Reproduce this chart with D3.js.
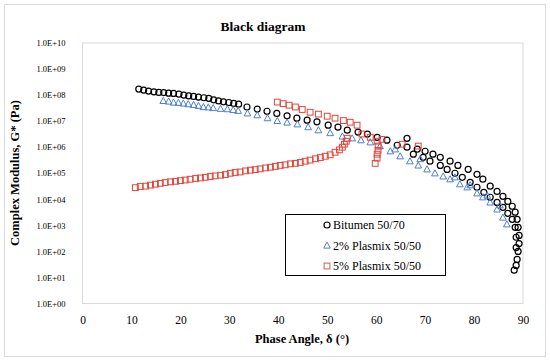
<!DOCTYPE html>
<html>
<head>
<meta charset="utf-8">
<script src="https://cdn.jsdelivr.net/npm/d3@7"></script>
<style>
  html, body { margin: 0; padding: 0; background: #fff; }
  svg { display: block; }
  text { font-family: "Liberation Serif", "DejaVu Serif", serif; fill: #000; }
</style>
</head>
<body>
<svg id="chart" width="550" height="362"></svg>
<script>
// ---------- DATA ----------
const chartTitle = "Black diagram";
const xTitle = "Phase Angle, δ  (°)";
const yTitle = "Complex Modulus, G* (Pa)";
const xTicks = [0, 10, 20, 30, 40, 50, 60, 70, 80, 90];
const yTicks = [1e0, 1e1, 1e2, 1e3, 1e4, 1e5, 1e6, 1e7, 1e8, 1e9, 1e10];
const seriesNames = ["Bitumen 50/70", "2% Plasmix 50/50", "5% Plasmix 50/50"];

// Bitumen 50/70
const bitumenDelta = [11.5, 12.5, 13.5, 14.6, 15.6, 16.6, 17.6, 18.6, 19.7, 20.7, 21.7, 22.7, 23.7, 24.8, 25.8,
  26.8, 27.8, 28.8, 29.9, 30.9, 31.9, 33.6, 35.7, 37.7, 39.7, 41.8, 43.8, 45.9, 47.9, 50.2, 52.2, 54.1,
  56.3, 58.2, 60.2, 62.2, 64.3, 66.3, 68.4, 70.0, 71.6, 73.1, 75.1, 76.7, 78.8, 80.6, 81.8, 83.3, 84.7,
  85.9, 86.9, 87.8, 88.4, 88.8, 89.0, 89.2, 89.2, 89.0, 88.8, 88.6, 88.2,
  66.3,
  67.6, 69.6, 71.0, 73.1, 74.5, 76.1, 77.6, 79.2, 80.6, 82.0, 83.3, 84.7, 85.9, 86.9, 87.8, 88.4, 88.6, 88.6];
const bitumenG = [1.70e8, 1.56e8, 1.43e8, 1.34e8, 1.27e8, 1.25e8, 1.19e8, 1.16e8, 1.09e8, 1.0e8, 9.4e7, 8.9e7, 8.4e7, 7.9e7, 7.5e7,
  6.6e7, 6.0e7, 5.5e7, 5.2e7, 4.8e7, 4.5e7, 3.5e7, 2.9e7, 2.4e7, 1.98e7, 1.6e7, 1.3e7, 1.09e7, 9.4e6, 7.0e6, 5.9e6, 4.5e6,
  3.8e6, 3.2e6, 2.4e6, 1.86e6, 1.19e6, 1.0e6, 8.4e5, 7.0e5, 5.4e5, 4.1e5, 2.9e5, 2.0e5, 1.42e5, 9.1e4, 5.9e4, 3.2e4, 2.0e4,
  1.3e4, 8.3e3, 5.4e3, 3.2e3, 1.7e3, 8.4e2, 4.1e2, 2.0e2, 1.0e2, 49, 29, 19,
  2.2e6,
  5.4e5, 4.1e5, 2.9e5, 2.0e5, 1.4e5, 1.0e5, 7.0e4, 4.5e4, 2.9e4, 1.86e4, 1.2e4, 7.6e3, 4.9e3, 2.9e3, 1.7e3, 8.4e2, 3.5e2, 1.4e2];

// 2% Plasmix 50/50
const plasmix2Delta = [16.5, 17.6, 18.6, 19.6, 20.6, 21.6, 22.7, 23.7, 24.7, 25.7, 26.7, 28.2, 29.6, 30.8, 31.8,
  33.7, 35.7, 37.8, 39.8, 41.8, 43.9, 46.1, 48.2, 50.6, 53.1, 55.1, 56.9, 58.8, 60.8, 62.9, 64.9, 66.9,
  68.6, 70.4, 72.0, 73.7, 75.1, 77.1, 78.6, 80.6, 81.8, 83.3, 84.7, 85.9, 86.7,
  63.9, 69.0, 76.1, 79.2, 82.7, 85.3];
const plasmix2G = [6.0e7, 5.7e7, 5.2e7, 5.1e7, 4.8e7, 4.5e7, 4.2e7, 3.9e7, 3.5e7, 3.4e7, 3.2e7, 3.0e7, 2.9e7, 2.7e7, 2.5e7,
  2.0e7, 1.7e7, 1.31e7, 1.02e7, 8.9e6, 7.6e6, 5.9e6, 4.5e6, 3.5e6, 2.6e6, 2.2e6, 1.86e6, 1.55e6, 1.1e6, 7.0e5, 4.5e5, 2.9e5,
  2.0e5, 1.42e5, 1.0e5, 7.6e4, 5.9e4, 3.8e4, 2.9e4, 1.7e4, 1.2e4, 7.6e3, 4.1e3, 2.0e3, 1.1e3,
  8.3e5, 3.5e5, 7.0e4, 3.5e4, 1.4e4, 5.9e3];

// 5% Plasmix 50/50
const plasmix5Delta = [10.8, 11.8, 12.9, 13.9, 14.9, 15.9, 16.9, 18.0, 19.0, 20.0, 21.0, 22.0, 23.1, 24.1, 25.1,
  26.1, 27.1, 28.2, 29.2, 30.2, 31.2, 32.2, 33.3, 34.3, 35.3, 36.3, 37.4, 38.4, 39.4, 40.4, 41.4, 42.5,
  43.5, 44.5, 45.5, 46.5, 47.6, 48.6, 49.6, 50.6, 51.6, 52.5, 53.1, 53.5, 53.9, 54.1,
  39.8, 41.0, 42.2, 43.5, 44.9, 46.5, 48.2, 50.0, 51.6, 53.3, 54.7, 56.1, 57.1, 58.8, 60.2, 60.4, 60.4,
  60.2, 60.2, 59.8, 61.2, 65.3, 68.6];
const plasmix5G = [2.8e4, 3.1e4, 3.2e4, 3.5e4, 3.8e4, 4.1e4, 4.4e4, 4.7e4, 4.9e4, 5.2e4, 5.5e4, 5.9e4, 6.3e4, 6.6e4, 7.0e4,
  7.5e4, 7.9e4, 8.4e4, 8.9e4, 1.0e5, 1.07e5, 1.12e5, 1.23e5, 1.31e5, 1.38e5, 1.47e5, 1.6e5, 1.7e5, 1.82e5, 2.0e5, 2.1e5, 2.3e5,
  2.4e5, 2.6e5, 2.9e5, 3.2e5, 3.6e5, 4.0e5, 4.5e5, 5.1e5, 6.4e5, 7.9e5, 1.0e6, 1.3e6, 1.7e6, 2.2e6,
  5.4e7, 4.7e7, 4.1e7, 3.5e7, 2.8e7, 2.2e7, 1.86e7, 1.55e7, 1.3e7, 1.05e7, 9.1e6, 7.0e6, 3.2e6, 2.4e6, 1.7e6, 1.1e6, 7.6e5,
  5.4e5, 3.8e5, 2.4e5, 2.0e6, 1.3e6, 1.1e6];

// ---------- CHART ----------
const svg = d3.select("#chart");
const plot = { left: 82.5, right: 523, top: 43, bottom: 303.5 };

// outer border
svg.append("rect").attr("x", 4.5).attr("y", 4.5).attr("width", 541).attr("height", 352)
  .attr("fill", "#fff").attr("stroke", "#d9d9d9").attr("stroke-width", 1);

// plot area border
svg.append("rect").attr("x", plot.left).attr("y", plot.top)
  .attr("width", plot.right - plot.left).attr("height", plot.bottom - plot.top)
  .attr("fill", "none").attr("stroke", "#d9d9d9").attr("stroke-width", 1);

const x = d3.scaleLinear().domain([0, 90]).range([plot.left, plot.right]);
const y = d3.scaleLog().domain([1, 1e10]).range([plot.bottom, plot.top]);

const fmtY = d => {
  const e = Math.round(Math.log10(d));
  return "1.0E+" + String(e).padStart(2, "0");
};

// x axis
const xAxis = svg.append("g").attr("transform", `translate(0,${plot.bottom})`)
  .call(d3.axisBottom(x).tickValues(xTicks).tickSize(0).tickPadding(12).tickFormat(d3.format("d")));
xAxis.select(".domain").remove();
xAxis.selectAll("text").attr("font-size", 11.5).attr("font-family", "Liberation Serif, serif").attr("fill", "#222");

// y axis
const yAxis = svg.append("g").attr("transform", `translate(${plot.left},0)`)
  .call(d3.axisLeft(y).tickValues(yTicks).tickSize(0).tickPadding(17).tickFormat(fmtY));
yAxis.select(".domain").remove();
yAxis.selectAll("text").attr("font-size", 8.5).attr("font-family", "Liberation Serif, serif").attr("fill", "#222");

// titles
svg.append("text").attr("x", 263).attr("y", 31).attr("text-anchor", "middle")
  .attr("font-size", 13.5).attr("font-weight", "bold").text(chartTitle);
svg.append("text").attr("x", 302).attr("y", 343).attr("text-anchor", "middle")
  .attr("font-size", 12.5).attr("font-weight", "bold").text(xTitle);
svg.append("text").attr("transform", "translate(19,173) rotate(-90)").attr("text-anchor", "middle")
  .attr("font-size", 12.5).attr("font-weight", "bold").text(yTitle);

// markers
const colors = ["#000000", "#4f7fd0", "#e0453a"];
const circleR = 3.0, sqS = 5.8, triS = 3.5;

function drawMarker(g, kind, cx, cy, color) {
  if (kind === 0) {
    g.append("circle").attr("cx", cx).attr("cy", cy).attr("r", circleR)
      .attr("fill", "none").attr("stroke", color).attr("stroke-width", 1.2);
  } else if (kind === 1) {
    const s = triS;
    g.append("path").attr("d", `M${cx},${cy - s}L${cx + s * 0.95},${cy + s * 0.75}L${cx - s * 0.95},${cy + s * 0.75}Z`)
      .attr("fill", "none").attr("stroke", color).attr("stroke-width", 1);
  } else {
    g.append("rect").attr("x", cx - sqS / 2).attr("y", cy - sqS / 2).attr("width", sqS).attr("height", sqS)
      .attr("fill", "none").attr("stroke", color).attr("stroke-width", 1);
  }
}

const series = [
  { d: bitumenDelta, g: bitumenG },
  { d: plasmix2Delta, g: plasmix2G },
  { d: plasmix5Delta, g: plasmix5G }
];
series.forEach((s, i) => {
  const g = svg.append("g").attr("class", "series-" + i);
  s.d.forEach((dv, k) => drawMarker(g, i, x(dv), y(s.g[k]), colors[i]));
});

// legend
const lg = svg.append("g");
lg.append("rect").attr("x", 285.5).attr("y", 214.5).attr("width", 160).attr("height", 61)
  .attr("fill", "#fff").attr("stroke", "#000").attr("stroke-width", 1);
const legendColors = ["#000000", "#5b7fc8", "#c06a50"];
seriesNames.forEach((name, i) => {
  const cy = 225 + i * 20.5;
  drawMarker(lg, i, 327, cy, legendColors[i]);
  lg.append("text").attr("x", 333).attr("y", cy + 4).attr("font-size", 12).text(name);
});
</script>
</body>
</html>
